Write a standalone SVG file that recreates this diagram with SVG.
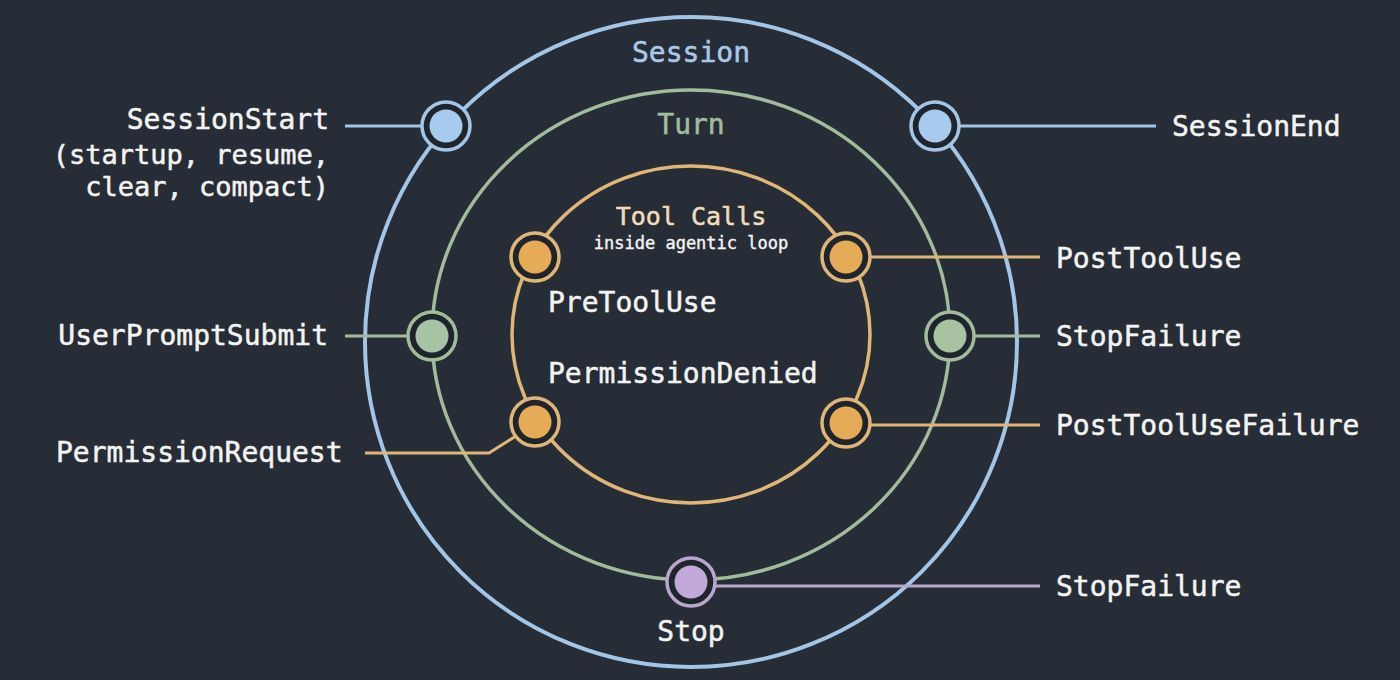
<svg xmlns="http://www.w3.org/2000/svg" width="1400" height="680" viewBox="0 0 1400 680">
<style>
text{font-family:"DejaVu Sans Mono","Liberation Mono",monospace;fill:#f3f3f1;stroke:#f3f3f1;stroke-width:0.5;font-size:28px}
.ring{fill:none}
.nb{fill:#1f242d;stroke-width:3.5}
.con{fill:none;stroke-width:3}
.blue{stroke:#a3c5e6}
.green{stroke:#a1bb9c}
.orange{stroke:#e0b676}
.purple{stroke:#b8a6cd}
</style>
<rect x="0" y="0" width="1400" height="680" fill="#272d37"/>
<g id="rings">
<ellipse class="ring blue" cx="691" cy="342" rx="326" ry="325" stroke-width="4"/>
<ellipse class="ring green" cx="691" cy="335" rx="259" ry="245" stroke-width="3.5"/>
<ellipse class="ring orange" cx="691" cy="334.5" rx="179" ry="168.5" stroke-width="3.5"/>
</g>
<g id="connectors">
<line class="con blue" x1="345" y1="126" x2="422" y2="126"/>
<line class="con blue" x1="959" y1="126" x2="1156" y2="126"/>
<line class="con green" x1="345" y1="336" x2="408" y2="336"/>
<line class="con green" x1="974" y1="336" x2="1040" y2="336"/>
<line class="con orange" x1="870" y1="257" x2="1040" y2="257"/>
<line class="con orange" x1="870" y1="425" x2="1040" y2="425"/>
<polyline class="con orange" points="365,453 489,453 516,436"/>
<line class="con purple" x1="714" y1="586" x2="1040" y2="586"/>
</g>
<g id="labels-rings">
<text x="691" y="62" text-anchor="middle" style="fill:#a9c9ea;stroke:#a9c9ea">Session</text>
<text x="691" y="134" text-anchor="middle" style="fill:#a3bd9e;stroke:#a3bd9e">Turn</text>
<text x="691" y="225" text-anchor="middle" style="fill:#f1ddb9;stroke:#f1ddb9;font-size:25px">Tool Calls</text>
<text x="691" y="249" text-anchor="middle" style="font-size:17px;stroke-width:0.4">inside agentic loop</text>
</g>
<g id="node-sessionstart">
<circle class="nb blue" cx="446" cy="126" r="24"/>
<circle cx="446" cy="126" r="16.5" fill="#a7cbee"/>
<text x="329" y="129" text-anchor="end">SessionStart</text>
<text x="329" y="164" text-anchor="end" style="font-size:27px">(startup, resume,</text>
<text x="329" y="196" text-anchor="end" style="font-size:27px">clear, compact)</text>
</g>
<g id="node-sessionend">
<circle class="nb blue" cx="935" cy="126" r="24"/>
<circle cx="935" cy="126" r="16.5" fill="#a7cbee"/>
<text x="1172" y="136">SessionEnd</text>
</g>
<g id="node-userpromptsubmit">
<circle class="nb green" cx="432" cy="336" r="24"/>
<circle cx="432" cy="336" r="16.5" fill="#a6c4a1"/>
<text x="328" y="345" text-anchor="end">UserPromptSubmit</text>
</g>
<g id="node-stopfailure-turn">
<circle class="nb green" cx="950" cy="336" r="24"/>
<circle cx="950" cy="336" r="16.5" fill="#a6c4a1"/>
<text x="1056" y="346">StopFailure</text>
</g>
<g id="node-pretooluse">
<circle class="nb orange" cx="535" cy="257" r="24"/>
<circle cx="535" cy="257" r="16.5" fill="#e6ab56"/>
<text x="548" y="312">PreToolUse</text>
</g>
<g id="node-posttooluse">
<circle class="nb orange" cx="846" cy="257" r="24"/>
<circle cx="846" cy="257" r="16.5" fill="#e6ab56"/>
<text x="1056" y="268">PostToolUse</text>
</g>
<g id="node-permissiondenied">
<text x="548" y="383">PermissionDenied</text>
</g>
<g id="node-permissionrequest">
<circle class="nb orange" cx="535" cy="422" r="24"/>
<circle cx="535" cy="422" r="16.5" fill="#e6ab56"/>
<text x="56" y="462">PermissionRequest</text>
</g>
<g id="node-posttoolusefailure">
<circle class="nb orange" cx="846" cy="423" r="24"/>
<circle cx="846" cy="423" r="16.5" fill="#e6ab56"/>
<text x="1056" y="435">PostToolUseFailure</text>
</g>
<g id="node-stop">
<circle class="nb purple" cx="691" cy="582" r="24"/>
<circle cx="691" cy="582" r="16.5" fill="#c3a8da"/>
<text x="691" y="641" text-anchor="middle">Stop</text>
</g>
<g id="node-stopfailure-session">
<text x="1056" y="596">StopFailure</text>
</g>
</svg>
